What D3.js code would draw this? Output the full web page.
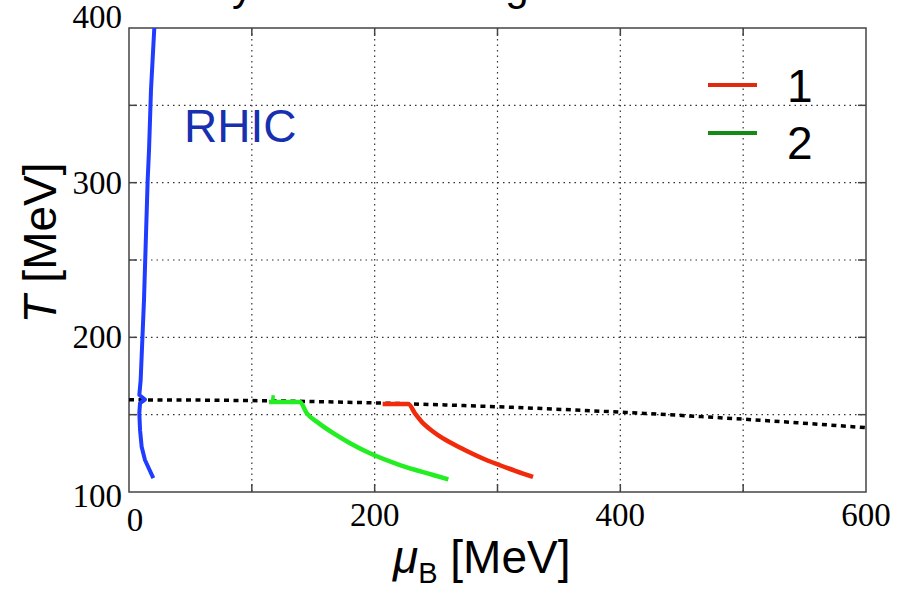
<!DOCTYPE html>
<html><head><meta charset="utf-8">
<script src="https://cdn.jsdelivr.net/npm/d3@7/dist/d3.min.js"></script>
<style>html,body{margin:0;padding:0;background:#fff;}svg{display:block;}</style>
</head><body>
<svg id="chart" width="913" height="590"></svg>
<script>
// ---- data ----
const xTickLabels = [0, 200, 400, 600];
const yTickLabels = [100, 200, 300, 400];
const xGrid = [100, 200, 300, 400, 500];
const yGrid = [150, 200, 250, 300, 350];

// RHIC trajectory (muB, T)
const rhic = [[20.6,400],[19.3,380.6],[17.9,359.9],[17.1,340.5],[16.3,321.1],[15.2,301.7],[14.7,288.8],
  [12.2,224],[9.5,172.4],[8.4,162.7],[13,159.8],[9,157.5],[8.4,151],[9,140],[10.3,129.3],[13,120.7],[19.8,109]];
// series 1 (red)
const series1 = [[206.5,156.9],[227.4,156.9],[232.8,150.9],[240,144],[247.7,139],[255,135],[262,131.8],
  [275,126.5],[290,121],[302,117.3],[315,113.5],[328.9,109.7]];
// series 2 (green) and its small start spike
const series2 = [[114,158.2],[139.2,158.2],[144.7,150.9],[152.8,145.5],[166.3,138],
  [180,131.5],[193.5,126],[220.6,117.4],[247.7,111],[260,108.2]];
const series2Spike = [[117.5,162.5],[116.8,158.2]];
// transition line (black dotted)
const boundary = [[0,159.6],[100,159.1],[200,157.6],[300,155.1],[400,151.6],[500,147.1],[600,141.6]];
const legendLabels = ["1", "2"];

// ---- layout ----
const svg = d3.select("#chart");
const L = 129, R = 866, T = 28, B = 492;
const x = d3.scaleLinear().domain([0, 600]).range([L, R]);
const y = d3.scaleLinear().domain([100, 400]).range([B, T]);

// cropped title (only descenders visible, as in the reference)
svg.append("text").attr("x", 134).attr("y", 0)
  .attr("font-family", "Liberation Sans, Arial, sans-serif").attr("font-size", 42)
  .attr("fill", "#000").text("Heavy collision along the lines");

// grid
const gridStyle = s => s.attr("stroke", "#333").attr("stroke-width", 1.2).attr("stroke-dasharray", "1.5,4");
svg.append("g").selectAll("line").data(xGrid).join("line")
  .attr("x1", d => x(d)).attr("x2", d => x(d)).attr("y1", T).attr("y2", B).call(gridStyle);
svg.append("g").selectAll("line").data(yGrid).join("line")
  .attr("y1", d => y(d)).attr("y2", d => y(d)).attr("x1", L).attr("x2", R).call(gridStyle);

// inward ticks on all spines
const tk = 8;
const tg = svg.append("g").attr("stroke", "#444").attr("stroke-width", 1.5);
xGrid.forEach(d => {
  tg.append("line").attr("x1", x(d)).attr("x2", x(d)).attr("y1", B).attr("y2", B - tk);
  tg.append("line").attr("x1", x(d)).attr("x2", x(d)).attr("y1", T).attr("y2", T + tk);
});
yGrid.forEach(d => {
  tg.append("line").attr("y1", y(d)).attr("y2", y(d)).attr("x1", L).attr("x2", L + tk);
  tg.append("line").attr("y1", y(d)).attr("y2", y(d)).attr("x1", R).attr("x2", R - tk);
});

// frame
svg.append("rect").attr("x", L).attr("y", T).attr("width", R - L).attr("height", B - T)
  .attr("fill", "none").attr("stroke", "#444").attr("stroke-width", 1.5);

// curves
const lineLin = d3.line().x(d => x(d[0])).y(d => y(d[1]));
const lineMono = d3.line().x(d => x(d[0])).y(d => y(d[1])).curve(d3.curveMonotoneX);
svg.append("clipPath").attr("id", "pc").append("rect")
  .attr("x", L).attr("y", T - 2).attr("width", R - L).attr("height", B - T + 2);
const cg = svg.append("g").attr("clip-path", "url(#pc)");
cg.append("path").datum(boundary).attr("d", lineMono).attr("fill", "none")
  .attr("stroke", "#000").attr("stroke-width", 3.5).attr("stroke-dasharray", "5,4.5");
cg.append("path").datum(rhic).attr("d", lineLin).attr("fill", "none")
  .attr("stroke", "#1f3cff").attr("stroke-width", 4).attr("stroke-linejoin", "round");
cg.append("path").datum(series2Spike).attr("d", lineLin).attr("fill", "none")
  .attr("stroke", "#22ee22").attr("stroke-width", 3.5);
cg.append("path").datum(series2).attr("d", lineMono).attr("fill", "none")
  .attr("stroke", "#22ee22").attr("stroke-width", 4.5).attr("stroke-linejoin", "round");
cg.append("path").datum(series1).attr("d", lineMono).attr("fill", "none")
  .attr("stroke", "#f02a0a").attr("stroke-width", 4.5).attr("stroke-linejoin", "round");

// tick labels
const serif = "Liberation Serif, Times New Roman, serif";
svg.append("g").selectAll("text").data(xTickLabels).join("text")
  .attr("x", d => d === 0 ? x(d) + 6 : x(d)).attr("y", d => d === 0 ? 531 : 526)
  .attr("text-anchor", "middle").attr("font-family", serif).attr("font-size", 33).text(d => d);
svg.append("g").selectAll("text").data(yTickLabels).join("text")
  .attr("x", 122).attr("y", d => d === 400 ? 28 : (d === 100 ? y(d) + 15 : y(d) + 11))
  .attr("text-anchor", "end").attr("font-family", serif).attr("font-size", 33).text(d => d);

// axis titles
const sans = "Liberation Sans, Arial, sans-serif";
const xt = svg.append("text").attr("x", 393).attr("y", 573).attr("font-family", sans).attr("font-size", 46);
xt.append("tspan").attr("font-style", "italic").text("μ");
xt.append("tspan").attr("font-size", 29).attr("dy", 10).text("B");
xt.append("tspan").attr("dy", -10).text(" [MeV]");

const yt = svg.append("text").attr("transform", "translate(56,243) rotate(-90)")
  .attr("text-anchor", "middle").attr("font-family", sans).attr("font-size", 46);
yt.append("tspan").attr("font-style", "italic").text("T");
yt.append("tspan").text(" [MeV]");

// RHIC label
svg.append("text").attr("x", 184).attr("y", 142).attr("font-family", sans).attr("font-size", 46)
  .attr("fill", "#1630b0").text("RHIC");

// legend
const legColors = ["#e02a10", "#168a16"];
const legY = [85, 133];
const legTextY = [102, 159];
legendLabels.forEach((lab, i) => {
  svg.append("line").attr("x1", 708).attr("x2", 757).attr("y1", legY[i]).attr("y2", legY[i])
    .attr("stroke", legColors[i]).attr("stroke-width", 4);
  svg.append("text").attr("x", 787).attr("y", legTextY[i]).attr("font-family", sans)
    .attr("font-size", 46).text(lab);
});
</script>
</body></html>
